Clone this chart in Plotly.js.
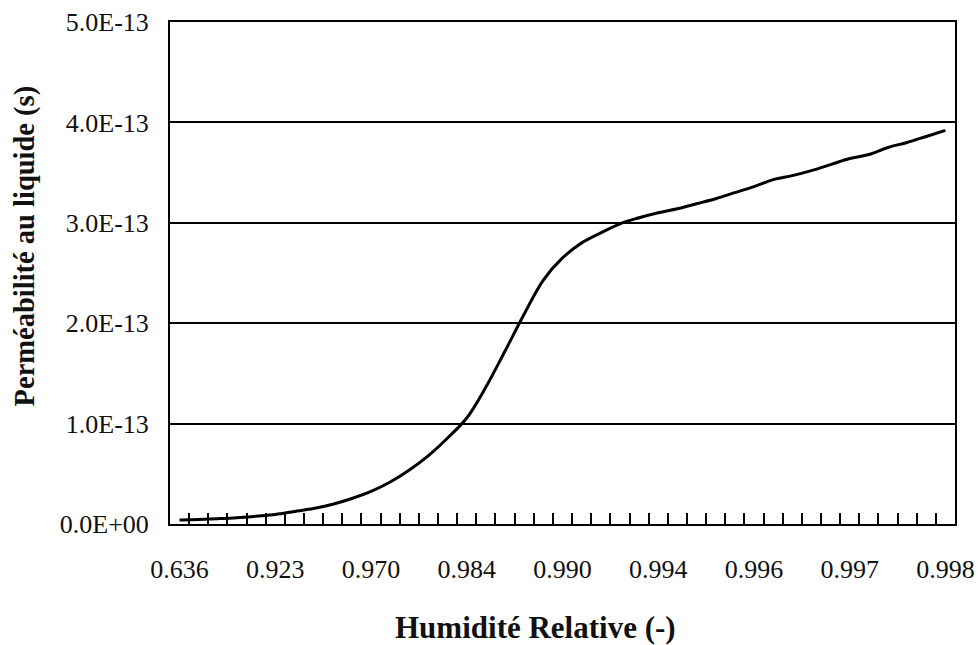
<!DOCTYPE html>
<html>
<head>
<meta charset="utf-8">
<script src="https://cdn.plot.ly/plotly-3.0.1.min.js"></script>
<style>
  html, body { margin: 0; padding: 0; background: #ffffff; }
  #chart { width: 978px; height: 645px; }
</style>
</head>
<body>
<div id="chart"></div>
<script>
// Category positions along the relative-humidity axis (one per measurement step)
const categoryIndex = [
  0, 1, 2, 3, 4, 5, 6, 7, 8, 9,
  10, 11, 12, 13, 14, 15, 16, 17, 18, 19,
  20, 21, 22, 23, 24, 25, 26, 27, 28, 29,
  30, 31, 32, 33, 34, 35, 36, 37, 38, 39, 40
];

// Liquid permeability, in units of 1E-13 s
const permeability = [
  0.04, 0.045, 0.053, 0.063, 0.078, 0.095, 0.125, 0.154, 0.196, 0.254,
  0.324, 0.418, 0.538, 0.682, 0.857, 1.056, 1.364, 1.723, 2.092, 2.43,
  2.65, 2.80, 2.90, 2.99, 3.05, 3.10, 3.14, 3.19, 3.24, 3.30,
  3.36, 3.43, 3.47, 3.52, 3.58, 3.64, 3.68, 3.75, 3.80, 3.86, 3.92
];

// Labelled categories on the humidity axis
const humidityTickPos = [0, 5, 10, 15, 20, 25, 30, 35, 40];
const humidityTickText = ["0.636", "0.923", "0.970", "0.984", "0.990", "0.994", "0.996", "0.997", "0.998"];

// Permeability axis ticks
const permTickVals = [0, 1e-13, 2e-13, 3e-13, 4e-13, 5e-13];
const permTickText = ["0.0E+00", "1.0E-13", "2.0E-13", "3.0E-13", "4.0E-13", "5.0E-13"];

// Axis titles
const xTitle = "Humidité Relative (-)";
const yTitle = "Perméabilité au liquide (s)";

const serif = "Liberation Serif, Times New Roman, serif";
const ink = "#111111";

const trace = {
  x: categoryIndex,
  y: permeability.map(v => v * 1e-13),
  type: "scatter",
  mode: "lines",
  line: { color: "#000000", width: 3, shape: "spline", smoothing: 1 },
  hoverinfo: "skip"
};

const layout = {
  width: 978,
  height: 645,
  margin: { l: 170, r: 23, t: 22, b: 121 },
  paper_bgcolor: "#ffffff",
  plot_bgcolor: "#ffffff",
  showlegend: false,
  font: { family: serif, color: ink, size: 26 },
  xaxis: {
    type: "linear",
    range: [-0.5, 40.5],
    tickmode: "array",
    tickvals: humidityTickPos,
    ticktext: humidityTickText,
    ticks: "inside",
    ticklen: 0,
    tickfont: { family: serif, size: 26, color: ink },
    ticklabelstandoff: 21,
    showgrid: false,
    zeroline: false,
    showline: true,
    linecolor: "#000000",
    linewidth: 2,
    mirror: true,
    minor: {
      tickmode: "linear",
      tick0: 0.5,
      dtick: 1,
      ticks: "inside",
      ticklen: 11,
      tickwidth: 2,
      tickcolor: "#000000",
      showgrid: false
    },
    automargin: false,
    fixedrange: true
  },
  yaxis: {
    range: [0, 5e-13],
    tickmode: "array",
    tickvals: permTickVals,
    ticktext: permTickText,
    ticks: "",
    tickfont: { family: serif, size: 26, color: ink },
    ticklabelstandoff: 14,
    showgrid: true,
    gridcolor: "#000000",
    gridwidth: 2,
    zeroline: false,
    showline: true,
    linecolor: "#000000",
    linewidth: 2,
    mirror: true,
    automargin: false,
    fixedrange: true
  },
  annotations: [
    {
      text: "<b>" + xTitle + "</b>",
      xref: "paper", yref: "paper",
      x: 0.4662, y: -0.207,
      xanchor: "center", yanchor: "middle",
      showarrow: false,
      font: { family: serif, size: 31, color: ink }
    },
    {
      text: "<b>" + yTitle + "</b>",
      xref: "paper", yref: "paper",
      x: -0.1847, y: 0.553,
      xanchor: "center", yanchor: "middle",
      textangle: -90,
      showarrow: false,
      font: { family: serif, size: 28.5, color: ink }
    }
  ]
};

Plotly.newPlot("chart", [trace], layout, { displayModeBar: false, staticPlot: true });
</script>
</body>
</html>
